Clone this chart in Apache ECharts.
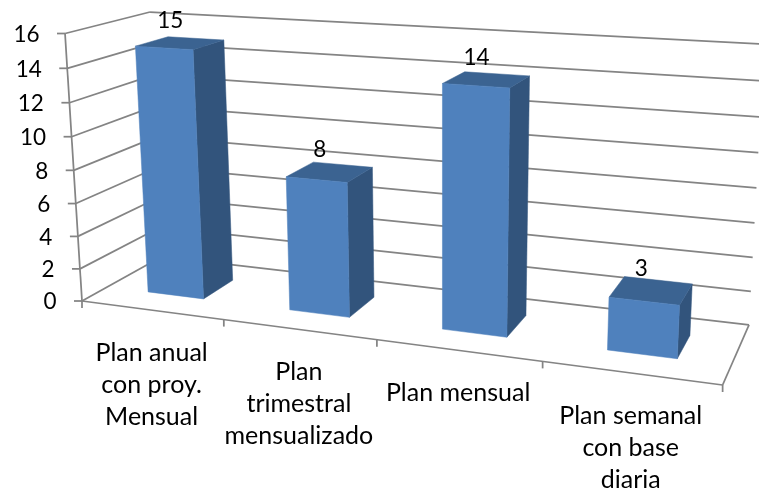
<!DOCTYPE html>
<html>
<head>
<meta charset="utf-8">
<style>html,body{margin:0;padding:0;background:#fff}#c{width:759px;height:492px}</style>
<script src="https://cdn.jsdelivr.net/npm/echarts@6/dist/echarts.min.js"></script>
</head>
<body>
<div id="c"></div>
<script>
const categories = ["Plan anual\ncon proy.\nMensual", "Plan\ntrimestral\nmensualizado", "Plan mensual", "Plan semanal\ncon base\ndiaria"];
const planValues = [15, 8, 14, 3];
const yTicks = [0, 2, 4, 6, 8, 10, 12, 14, 16];

const FONT = 'Lato, "Open Sans", sans-serif';
const DIGIT_SIZE = 22.5;
const NAME_SIZE = 25;
const LINE = '#848484';
const FRONT = '#4F81BD', SIDE = '#32547C', TOP = '#3B6391';

// 3D view of the chart box: u along categories, v along values, w into the depth (each 0..1)
function project(u, v, w) {
  const d = 1 - 0.147 * u - 0.045 * v + 0.098 * w;
  return [
    (82 + 534.4 * u - 19.9 * v + 95.9 * w) / d,
    (301 + 27.4 * u - 269 * v - 19.35 * w) / d
  ];
}
// from the library's pixel position inside the grid to normalised (u, v)
function toU(px, r) { return (px - r.x) / r.width; }
function toV(py, r) { return (r.y + r.height - py) / r.height; }

function seg(a, b, width) {
  return { type: 'line', shape: { x1: a[0], y1: a[1], x2: b[0], y2: b[1] },
    style: { stroke: LINE, lineWidth: width || 1.75, fill: null } };
}
function poly(pts, fill) {
  return { type: 'polygon', shape: { points: pts }, style: { fill: fill, stroke: fill, lineWidth: 0.5 } };
}
function txt(s, x, y, align, vAlign, size) {
  return { type: 'text', style: { text: s, x: x, y: y, fill: '#000', align: align, verticalAlign: vAlign,
    font: size + 'px ' + FONT, lineHeight: 32 } };
}

function renderTick(params, api) {
  const r = params.coordSys;
  const v = toV(api.coord([0, api.value(1)])[1], r);
  const front = project(0, v, 0), back = project(0, v, 1), right = project(1, v, 1);
  return { type: 'group', children: [
    seg(front, back), seg(back, right),
    seg([front[0] - 8, front[1]], front),
    txt(String(api.value(1)), front[0] - 25.5, front[1] + 1, 'right', 'middle', DIGIT_SIZE)
  ] };
}

function renderFrame(params, api) {
  const r = params.coordSys;
  const top = toV(api.coord([0, yTicks[yTicks.length - 1]])[1], r);
  const kids = [
    seg(project(0, 0, 0), project(0, top, 0)),
    seg(project(0, 0, 0), project(1, 0, 0)),
    seg(project(1, 0, 0), project(1, 0, 1))
  ];
  const band = api.size([1, 0])[0] / r.width;
  for (let i = 0; i <= categories.length; i++) {
    const p = project(i * band, 0, 0);
    kids.push(seg(p, [p[0], p[1] + 7]));
  }
  return { type: 'group', children: kids };
}

function renderBar(params, api) {
  const r = params.coordSys;
  const c = api.coord([api.value(0), api.value(1)]);
  const band = api.size([1, 0])[0] / r.width;
  const uc = toU(c[0], r), v = toV(c[1], r);
  const u0 = uc - band * 0.2, u1 = uc + band * 0.2, w0 = 0.3, w1 = 0.7;
  const P = project;
  return { type: 'group', children: [
    poly([P(u1, 0, w0), P(u1, 0, w1), P(u1, v, w1), P(u1, v, w0)], SIDE),
    poly([P(u0, v, w0), P(u1, v, w0), P(u1, v, w1), P(u0, v, w1)], TOP),
    poly([P(u0, 0, w0), P(u1, 0, w0), P(u1, v, w0), P(u0, v, w0)], FRONT)
  ] };
}

function renderValue(params, api) {
  const r = params.coordSys;
  const c = api.coord([api.value(0), api.value(1)]);
  const p = project(toU(c[0], r), toV(c[1], r), 0.5);
  return txt(String(api.value(1)), p[0] - 10, p[1] - 22, 'center', 'middle', DIGIT_SIZE);
}

function renderCategory(params, api) {
  const r = params.coordSys;
  const c = api.coord([api.value(0), 0]);
  const p = project(toU(c[0], r), 0, 0);
  return txt(categories[api.value(0)], p[0], p[1] + 27, 'center', 'top', NAME_SIZE);
}

const barData = planValues.map((v, i) => [i, v]);
const common = { type: 'custom', coordinateSystem: 'cartesian2d', silent: true, animation: false,
  encode: { x: 0, y: 1 } };

const chart = echarts.init(document.getElementById('c'), null, { renderer: 'canvas' });
chart.setOption({
  animation: false,
  backgroundColor: '#fff',
  grid: { left: 80, right: 20, top: 30, bottom: 100 },
  xAxis: { type: 'category', data: categories, show: false },
  yAxis: { type: 'value', min: 0, max: 16, interval: 2, show: false },
  series: [
    Object.assign({}, common, { name: 'ticks', data: yTicks.map(t => [0, t]), renderItem: renderTick }),
    Object.assign({}, common, { name: 'frame', data: [[0, 0]], renderItem: renderFrame }),
    Object.assign({}, common, { name: 'Planes', data: barData, renderItem: renderBar }),
    Object.assign({}, common, { name: 'values', data: barData, renderItem: renderValue }),
    Object.assign({}, common, { name: 'categories', data: barData, renderItem: renderCategory })
  ]
});
</script>
</body>
</html>
